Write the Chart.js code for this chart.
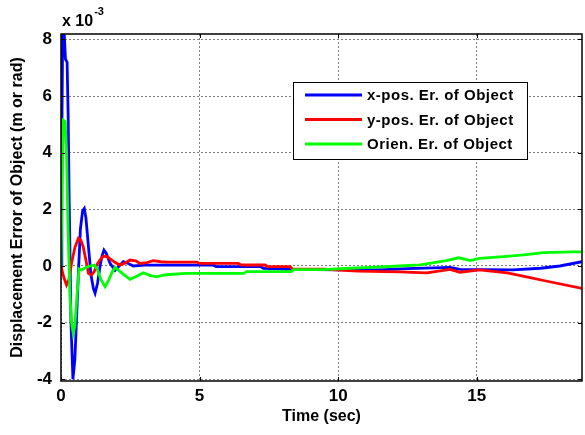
<!DOCTYPE html>
<html>
<head>
<meta charset="utf-8">
<script src="https://cdn.jsdelivr.net/npm/chart.js@4.4.1/dist/chart.umd.min.js"></script>
<style>
    html, body { margin: 0; padding: 0; background: #fff; }
    #errChart { display: block; }
</style>
</head>
<body>
<canvas id="errChart" width="585" height="435"></canvas>
<script>
// Displacement errors of the object, in units of 1e-3 (m or rad)
const seriesLabels = ['x-pos. Er. of Object', 'y-pos. Er. of Object', 'Orien. Er. of Object'];
const seriesColors = ['#0000ff', '#ff0000', '#00ff00'];

const xPosTime = [0, 0.03, 0.06, 0.12, 0.16, 0.22, 0.26, 0.3, 0.36, 0.43, 0.5, 0.56, 0.63, 0.7, 0.78, 0.84, 0.9, 0.99, 1.08, 1.17, 1.23, 1.32, 1.41, 1.48, 1.55, 1.63, 1.77, 1.95, 2.1, 2.25, 2.45, 2.61, 3.0, 4.0, 5.5, 5.6, 7.2, 7.3, 8.3, 10, 11.5, 12.5, 14.04, 14.4, 16.3, 17.3, 18.0, 18.8];
const xPosErr  = [0, 4.5, 8.15, 8.15, 7.3, 7.2, 5.2, 2.0, -2.0, -4.0, -3.3, -1.9, -0.2, 1.3, 1.95, 2.03, 1.7, 0.68, -0.3, -0.8, -0.96, -0.6, 0, 0.35, 0.56, 0.45, 0.09, -0.15, 0.0, 0.15, 0.08, 0.0, 0.03, 0.03, 0.03, -0.02, -0.02, -0.08, -0.12, -0.14, -0.14, -0.09, -0.05, -0.12, -0.14, -0.08, 0.0, 0.15];

const yPosTime = [0, 0.1, 0.2, 0.28, 0.38, 0.5, 0.63, 0.72, 0.8, 0.9, 0.99, 1.1, 1.2, 1.29, 1.4, 1.53, 1.68, 1.83, 2.0, 2.13, 2.3, 2.49, 2.7, 2.85, 3.1, 3.33, 3.6, 3.8, 4.9, 5.0, 6.4, 6.5, 7.36, 7.45, 8.27, 8.35, 9.46, 10.7, 12.2, 13.2, 14.04, 14.4, 15.1, 16.1, 16.8, 17.5, 18.8];
const yPosErr  = [0, -0.4, -0.67, -0.5, 0.1, 0.65, 0.98, 0.9, 0.68, 0.2, -0.26, -0.32, -0.2, 0.04, 0.2, 0.35, 0.32, 0.21, 0.1, 0.04, 0.1, 0.21, 0.18, 0.09, 0.12, 0.19, 0.15, 0.14, 0.14, 0.09, 0.09, 0.035, 0.035, -0.02, -0.02, -0.11, -0.11, -0.18, -0.21, -0.24, -0.12, -0.22, -0.14, -0.24, -0.38, -0.53, -0.79];

const orienTime = [0, 0.04, 0.08, 0.15, 0.2, 0.25, 0.32, 0.38, 0.44, 0.5, 0.58, 0.65, 0.75, 0.9, 1.05, 1.2, 1.3, 1.45, 1.59, 1.72, 1.85, 1.95, 2.2, 2.49, 2.75, 2.97, 3.2, 3.45, 3.7, 3.93, 4.5, 6.6, 6.7, 8.3, 8.4, 9.46, 10.4, 11.4, 12.2, 12.96, 13.9, 14.35, 14.77, 15.1, 15.97, 16.7, 17.4, 18.4, 18.8];
const orienErr  = [0, 2.8, 5.15, 5.1, 4.0, 1.5, -1.0, -2.0, -2.37, -2.1, -1.0, -0.1, -0.14, -0.05, 0.0, 0.03, -0.1, -0.5, -0.73, -0.5, -0.2, -0.05, -0.25, -0.47, -0.35, -0.24, -0.33, -0.38, -0.32, -0.3, -0.26, -0.26, -0.2, -0.2, -0.13, -0.13, -0.08, -0.04, 0.0, 0.04, 0.19, 0.29, 0.19, 0.27, 0.33, 0.39, 0.47, 0.5, 0.5];

const xTicks = [0, 5, 10, 15];
const yTicks = [-4, -2, 0, 2, 4, 6, 8];

function toPoints(times, values) {
    return times.map((t, i) => ({ x: t, y: values[i] }));
}

// Box around the plot, inward tick marks, exponent label and legend
const matlabFrame = {
    id: 'matlabFrame',
    afterDraw(chart) {
        const ctx = chart.ctx;
        const area = chart.chartArea;
        const xs = chart.scales.x;
        const ys = chart.scales.y;

        ctx.save();
        ctx.strokeStyle = '#000';
        ctx.lineWidth = 1;
        xTicks.forEach(v => {
            const px = Math.round(xs.getPixelForValue(v)) + 0.5;
            ctx.beginPath();
            ctx.moveTo(px, area.bottom); ctx.lineTo(px, area.bottom - 4);
            ctx.moveTo(px, area.top); ctx.lineTo(px, area.top + 4);
            ctx.stroke();
        });
        yTicks.forEach(v => {
            const py = Math.round(ys.getPixelForValue(v)) + 0.5;
            ctx.beginPath();
            ctx.moveTo(area.left, py); ctx.lineTo(area.left + 4, py);
            ctx.moveTo(area.right, py); ctx.lineTo(area.right - 4, py);
            ctx.stroke();
        });

        ctx.lineWidth = 1.5;
        ctx.strokeRect(area.left, area.top, area.right - area.left, area.bottom - area.top);

        // x 10^-3 multiplier
        ctx.fillStyle = '#000';
        ctx.textBaseline = 'alphabetic';
        ctx.textAlign = 'left';
        ctx.font = 'bold 16px "Liberation Sans", Arial, sans-serif';
        ctx.fillText('x 10', area.left + 1, 26);
        const w = ctx.measureText('x 10').width;
        ctx.font = 'bold 11px "Liberation Sans", Arial, sans-serif';
        ctx.fillText('-3', area.left + 2 + w, 15);

        // legend
        const lx = 293, ly = 82, lw = 234, lh = 77;
        ctx.fillStyle = '#fff';
        ctx.fillRect(lx, ly, lw, lh);
        ctx.lineWidth = 1;
        ctx.strokeStyle = '#000';
        ctx.strokeRect(lx + 0.5, ly + 0.5, lw, lh);
        ctx.font = 'bold 15px "Liberation Sans", Arial, sans-serif';
        ctx.letterSpacing = '0.5px';
        ctx.textBaseline = 'middle';
        chart.data.datasets.forEach((ds, i) => {
            const yy = 95 + i * 24.5;
            ctx.strokeStyle = ds.borderColor;
            ctx.lineWidth = 2.8;
            ctx.beginPath();
            ctx.moveTo(305, yy); ctx.lineTo(362, yy);
            ctx.stroke();
            ctx.fillStyle = '#000';
            ctx.fillText(ds.label, 367, yy + 1);
        });
        ctx.restore();
    }
};

const tickFont = { family: '"Liberation Sans", Arial, sans-serif', size: 17, weight: 'bold' };
const titleFont = { family: '"Liberation Sans", Arial, sans-serif', size: 16, weight: 'bold' };

const errCtx = document.getElementById('errChart').getContext('2d');
const errChart = new Chart(errCtx, {
    type: 'line',
    data: {
        datasets: [
            { label: seriesLabels[0], data: toPoints(xPosTime, xPosErr), borderColor: seriesColors[0], order: 3 },
            { label: seriesLabels[1], data: toPoints(yPosTime, yPosErr), borderColor: seriesColors[1], order: 2 },
            { label: seriesLabels[2], data: toPoints(orienTime, orienErr), borderColor: seriesColors[2], order: 1 }
        ]
    },
    options: {
        responsive: false,
        animation: false,
        events: [],
        layout: { padding: { top: 34, right: 3, left: 0, bottom: 0 } },
        elements: {
            line: { borderWidth: 2.8, tension: 0, fill: false },
            point: { radius: 0 }
        },
        plugins: {
            legend: { display: false },
            tooltip: { enabled: false }
        },
        scales: {
            x: {
                type: 'linear',
                min: 0,
                max: 18.8,
                afterFit: scale => { scale.height = 54; },
                afterBuildTicks: scale => { scale.ticks = xTicks.map(v => ({ value: v })); },
                ticks: { font: tickFont, color: '#000', padding: 5, maxRotation: 0 },
                grid: { color: '#808080', lineWidth: 1, drawTicks: false },
                border: { display: false, dash: [2, 2] },
                title: { display: true, text: 'Time (sec)', font: titleFont, color: '#000', padding: { top: 0, bottom: 9 } }
            },
            y: {
                type: 'linear',
                min: -4.06,
                max: 8.19,
                afterFit: scale => { scale.width = 61; },
                afterBuildTicks: scale => { scale.ticks = yTicks.map(v => ({ value: v })); },
                ticks: { font: tickFont, color: '#000', padding: 9 },
                grid: { color: '#808080', lineWidth: 1, drawTicks: false },
                border: { display: false, dash: [2, 2] },
                title: { display: true, text: 'Displacement Error of Object (m or rad)', font: titleFont, color: '#000', padding: { top: 8, bottom: 0 } }
            }
        }
    },
    plugins: [matlabFrame]
});
</script>
</body>
</html>
